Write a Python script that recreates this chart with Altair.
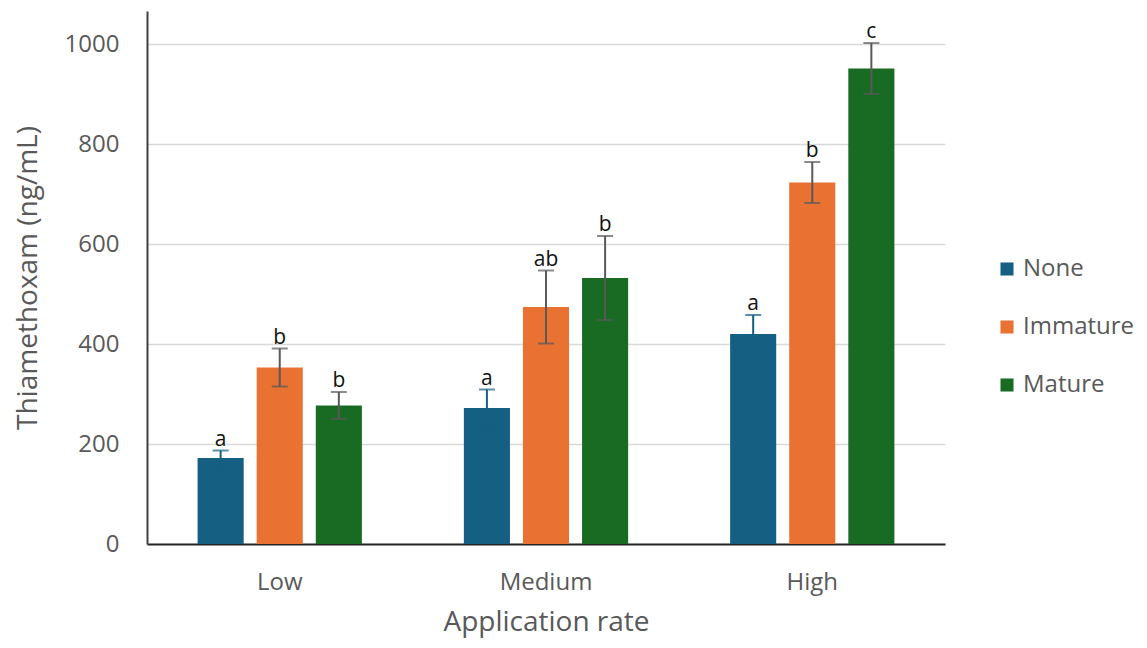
import altair as alt
import pandas as pd

rates = ["Low", "Medium", "High"]
series = ["None", "Immature", "Mature"]
colors = ["#156082", "#E97132", "#196B24"]
err_colors = ["#156082", "#595959", "#595959"]

mean_none = [172, 272, 420]
mean_immature = [353, 474, 723]
mean_mature = [277, 532, 951]

err_none = [15, 37, 38]
err_immature = [38, 73, 41]
err_mature = [27, 84, 51]

letters_none = ["a", "a", "a"]
letters_immature = ["b", "ab", "b"]
letters_mature = ["b", "b", "c"]

rows = []
for s, means, errs, lets, ec in [
    ("None", mean_none, err_none, letters_none, err_colors[0]),
    ("Immature", mean_immature, err_immature, letters_immature, err_colors[1]),
    ("Mature", mean_mature, err_mature, letters_mature, err_colors[2]),
]:
    for r, m, e, l in zip(rates, means, errs, lets):
        rows.append({"rate": r, "series": s, "mean": m, "lo": m - e, "hi": m + e,
                     "letter": l, "ecolor": ec})
df = pd.DataFrame(rows)

FONT = "Open Sans"
GREY = "#595959"

x_enc = alt.X("rate:N", sort=rates, title="Application rate",
              scale=alt.Scale(paddingInner=0.383, paddingOuter=0.19),
              axis=alt.Axis(labelAngle=0, labelFontSize=24, labelColor=GREY, labelFont=FONT,
                            titleFontSize=28, titleColor=GREY, titleFont=FONT, titleFontWeight="normal",
                            titlePadding=14, labelPadding=26, ticks=False,
                            domainColor="#262626", domainWidth=2, grid=False))
xoff = alt.XOffset("series:N", sort=series, scale=alt.Scale(paddingInner=0.22, paddingOuter=0))

y_scale = alt.Scale(domain=[0, 1066], nice=False)

bars = alt.Chart(df).mark_bar().encode(
    x=x_enc,
    xOffset=xoff,
    y=alt.Y("mean:Q", scale=y_scale, title="Thiamethoxam (ng/mL)",
            axis=alt.Axis(values=[0, 200, 400, 600, 800, 1000], format="d", labelFontSize=24, labelColor=GREY,
                          labelFont=FONT, titleFontSize=28, titleColor=GREY, titleFont=FONT,
                          titleFontWeight="normal", titlePadding=22, labelPadding=28, ticks=False,
                          domainColor="#404040", domainWidth=2, gridColor="#d9d9d9", gridWidth=1.5)),
    color=alt.Color("series:N", sort=series, scale=alt.Scale(domain=series, range=colors),
                    legend=alt.Legend(title=None, orient="none", legendX=848, legendY=246,
                                      symbolType="square", symbolSize=170, symbolStrokeWidth=0,
                                      labelFontSize=24, labelColor=GREY, labelFont=FONT,
                                      rowPadding=34, padding=0, labelOffset=4)),
)

rules = alt.Chart(df).mark_rule(strokeWidth=2).encode(
    x=alt.X("rate:N", sort=rates),
    xOffset=xoff,
    y=alt.Y("lo:Q", scale=y_scale),
    y2="hi:Q",
    color=alt.Color("ecolor:N", scale=None),
)

caps_hi = alt.Chart(df).mark_tick(thickness=2, size=16, orient="horizontal").encode(
    x=alt.X("rate:N", sort=rates),
    xOffset=xoff,
    y=alt.Y("hi:Q", scale=y_scale),
    color=alt.Color("ecolor:N", scale=None),
)
caps_lo = alt.Chart(df).mark_tick(thickness=2, size=16, orient="horizontal").encode(
    x=alt.X("rate:N", sort=rates),
    xOffset=xoff,
    y=alt.Y("lo:Q", scale=y_scale),
    color=alt.Color("ecolor:N", scale=None),
)

letters = alt.Chart(df).mark_text(fontSize=21, font=FONT, color="#111111", baseline="bottom", dy=-1).encode(
    x=alt.X("rate:N", sort=rates),
    xOffset=xoff,
    y=alt.Y("hi:Q", scale=y_scale),
    text="letter:N",
)

chart = alt.layer(bars, rules, caps_lo, caps_hi, letters).resolve_scale(color="independent").properties(
    width=798, height=533,
    background="white",
    autosize=alt.AutoSizeParams(type="none"),
    padding={"left": 139, "top": 3, "right": 194, "bottom": 96},
).configure_view(stroke=None, strokeWidth=0)

chart.save("out.html", embed_options={"renderer": "svg", "actions": False})
